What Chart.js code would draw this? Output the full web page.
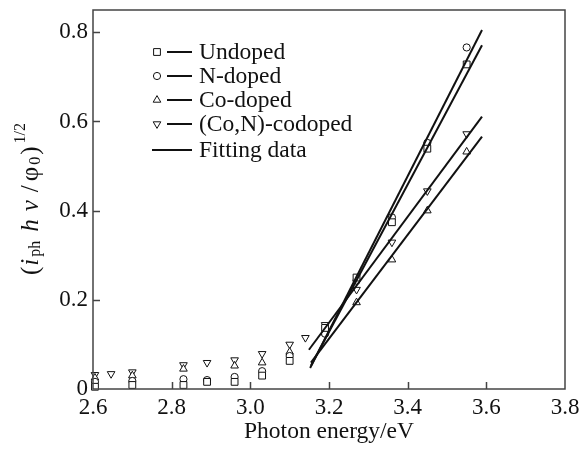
<!DOCTYPE html>
<html lang="en">
<head>
    <meta charset="UTF-8">
    <title>Photon energy</title>
    <style>
        body { margin: 0; background: #fff; }
        .chartBox { width: 587px; height: 454px; }
    </style>
</head>
<body>
    <div class="chartBox">
        <canvas id="chart"></canvas>
    </div>

    <script src="https://cdn.jsdelivr.net/npm/chart.js"></script>
    <script>
        // measured points, x = photon energy (eV)
        const undopedX = [2.605, 2.70, 2.83, 2.89, 2.96, 3.03, 3.10, 3.19, 3.27, 3.36, 3.45, 3.55];
        const undopedY = [0.005, 0.009, 0.009, 0.016, 0.016, 0.030, 0.063, 0.137, 0.250, 0.374, 0.539, 0.728];

        const nDopedX = [2.605, 2.70, 2.83, 2.89, 2.96, 3.03, 3.10, 3.19, 3.27, 3.36, 3.45, 3.55];
        const nDopedY = [0.016, 0.018, 0.022, 0.020, 0.027, 0.040, 0.074, 0.124, 0.243, 0.385, 0.552, 0.766];

        const coDopedX = [2.605, 2.70, 2.83, 2.96, 3.03, 3.10, 3.19, 3.27, 3.36, 3.45, 3.55];
        const coDopedY = [0.025, 0.030, 0.045, 0.052, 0.059, 0.083, 0.126, 0.194, 0.290, 0.400, 0.532];

        const coNX = [2.605, 2.646, 2.70, 2.83, 2.89, 2.96, 3.03, 3.10, 3.14, 3.19, 3.27, 3.36, 3.45, 3.55];
        const coNY = [0.032, 0.034, 0.038, 0.054, 0.059, 0.065, 0.079, 0.100, 0.115, 0.144, 0.223, 0.329, 0.444, 0.572];

        // fitted lines, end points
        const fitUndopedX = [3.154, 3.589];
        const fitUndopedY = [0.052, 0.771];
        const fitNX = [3.152, 3.589];
        const fitNY = [0.047, 0.805];
        const fitCoX = [3.154, 3.589];
        const fitCoY = [0.059, 0.566];
        const fitCoNX = [3.149, 3.589];
        const fitCoNY = [0.088, 0.611];

        const xTicks = [2.6, 2.8, 3.0, 3.2, 3.4, 3.6, 3.8];
        const yTicks = [0, 0.2, 0.4, 0.6, 0.8];

        const legendLabels = ['Undoped', 'N-doped', 'Co-doped', '(Co,N)-codoped', 'Fitting data'];

        const FONT = '"Liberation Serif", "DejaVu Serif", serif';
        const INK = '#111';

        function pts(xs, ys) {
            return xs.map((x, i) => ({ x: x, y: ys[i] }));
        }

        function markerSet(label, xs, ys, style, rot, r) {
            return {
                label: label,
                data: pts(xs, ys),
                showLine: false,
                clip: false,
                pointStyle: style,
                pointRotation: rot,
                pointRadius: r,
                pointBorderWidth: 1,
                pointBorderColor: INK,
                pointBackgroundColor: '#fff'
            };
        }

        function fitSet(xs, ys) {
            return {
                label: 'fit',
                data: pts(xs, ys),
                showLine: true,
                borderColor: INK,
                borderWidth: 2,
                pointRadius: 0
            };
        }

        const datasets = [
            fitSet(fitUndopedX, fitUndopedY),
            fitSet(fitNX, fitNY),
            fitSet(fitCoX, fitCoY),
            fitSet(fitCoNX, fitCoNY),
            markerSet(legendLabels[0], undopedX, undopedY, 'rect', 0, 4.8),
            markerSet(legendLabels[1], nDopedX, nDopedY, 'circle', 0, 3.6),
            markerSet(legendLabels[2], coDopedX, coDopedY, 'triangle', 0, 4.4),
            markerSet(legendLabels[3], coNX, coNY, 'triangle', 180, 4.4)
        ];

        // frame, inward ticks, legend and axis titles
        const decor = {
            id: 'decor',
            afterDraw(chart) {
                const ctx = chart.ctx;
                const a = chart.chartArea;
                const xs = chart.scales.x;
                const ys = chart.scales.y;
                ctx.save();
                ctx.strokeStyle = '#444';
                ctx.lineWidth = 1.5;
                ctx.strokeRect(a.left, a.top, a.right - a.left, a.bottom - a.top);

                ctx.beginPath();
                xTicks.slice(1, -1).forEach(v => {
                    const px = Math.round(xs.getPixelForValue(v)) + 0.5;
                    ctx.moveTo(px, a.bottom);
                    ctx.lineTo(px, a.bottom - 7);
                });
                yTicks.slice(1).forEach(v => {
                    const py = Math.round(ys.getPixelForValue(v)) + 0.5;
                    ctx.moveTo(a.left, py);
                    ctx.lineTo(a.left + 7, py);
                });
                ctx.stroke();

                // legend
                const rowY = [52, 76, 100, 124, 150];
                ctx.font = '23.5px ' + FONT;
                ctx.textBaseline = 'middle';
                ctx.fillStyle = INK;
                ctx.strokeStyle = INK;
                legendLabels.forEach((lab, i) => {
                    const y = rowY[i];
                    ctx.lineWidth = 2;
                    ctx.beginPath();
                    ctx.moveTo(i < 4 ? 167 : 152, y);
                    ctx.lineTo(192, y);
                    ctx.stroke();
                    if (i < 4) {
                        const ds = datasets[4 + i];
                        ctx.lineWidth = 1;
                        ctx.fillStyle = '#fff';
                        Chart.helpers.drawPoint(ctx, {
                            pointStyle: ds.pointStyle,
                            rotation: ds.pointRotation,
                            radius: ds.pointRadius,
                            borderWidth: 1
                        }, 157, y);
                        ctx.fillStyle = INK;
                    }
                    ctx.fillText(lab, 199, y + 1);
                });

                // x title
                ctx.textAlign = 'center';
                ctx.font = '23.5px ' + FONT;
                ctx.fillText('Photon energy/eV', (a.left + a.right) / 2, 432);

                // y title, drawn in pieces for sub/superscripts
                const parts = [
                    ['(', 25, '', 0],
                    ['i', 25, 'italic ', 0],
                    ['ph', 16, '', 5],
                    ['h', 25, 'italic ', 0],
                    ['\u03bd', 25, 'italic ', 0],
                    ['/', 25, '', 0],
                    ['\u03c6', 25, '', 0],
                    ['0', 16, '', 5],
                    [')', 25, '', 0],
                    ['1/2', 16, '', -10]
                ];
                const gaps = [1, 2, 9, 8, 8, 4, 2, 2, 3, 0];
                let total = 0;
                parts.forEach((p, i) => {
                    ctx.font = p[2] + p[1] + 'px ' + FONT;
                    p.push(ctx.measureText(p[0]).width + gaps[i]);
                    total += p[4];
                });
                ctx.translate(31, 199);
                ctx.rotate(-Math.PI / 2);
                ctx.textAlign = 'left';
                let cx = -total / 2;
                parts.forEach(p => {
                    ctx.font = p[2] + p[1] + 'px ' + FONT;
                    ctx.fillText(p[0], cx, p[3]);
                    cx += p[4];
                });
                ctx.restore();
            }
        };

        const config = {
            type: 'scatter',
            data: { datasets: datasets },
            options: {
                responsive: true,
                maintainAspectRatio: false,
                animation: false,
                layout: { padding: { top: 0, right: 22, left: 0, bottom: 0 } },
                plugins: {
                    legend: { display: false },
                    tooltip: { enabled: false }
                },
                scales: {
                    x: {
                        type: 'linear',
                        min: 2.6,
                        max: 3.8,
                        afterFit: s => { s.height = 65; },
                        afterBuildTicks: s => { s.ticks = xTicks.map(v => ({ value: v })); },
                        grid: { display: false, drawTicks: false },
                        border: { display: false },
                        ticks: {
                            padding: 5,
                            color: INK,
                            font: { family: FONT, size: 23 },
                            callback: v => Number(v).toFixed(1)
                        }
                    },
                    y: {
                        type: 'linear',
                        min: 0,
                        max: 0.85,
                        afterFit: s => { s.width = 93; s.paddingTop = 10; },
                        afterBuildTicks: s => { s.ticks = yTicks.map(v => ({ value: v })); },
                        grid: { display: false, drawTicks: false },
                        border: { display: false },
                        ticks: {
                            padding: 5,
                            color: INK,
                            font: { family: FONT, size: 23 },
                            callback: v => v === 0 ? '0' : Number(v).toFixed(1)
                        }
                    }
                }
            },
            plugins: [decor]
        };

        const myChart = new Chart(document.getElementById('chart'), config);
    </script>
</body>
</html>
